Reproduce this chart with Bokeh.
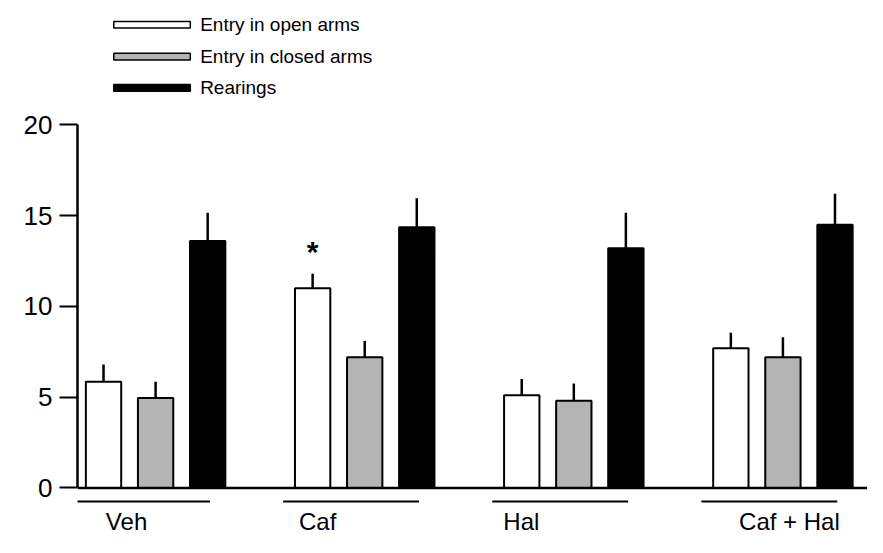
import numpy as np
from bokeh.plotting import figure
from bokeh.models import Range1d, Span, FixedTicker, ColumnDataSource
from bokeh.core.properties import value
from bokeh.embed import file_html
from bokeh.resources import INLINE

# ---- data ----
groups = ["Veh", "Caf", "Hal", "Caf + Hal"]
series_names = ["Entry in open arms", "Entry in closed arms", "Rearings"]
open_arms = [5.85, 11.0, 5.1, 7.7]
open_err = [0.95, 0.8, 0.9, 0.85]
closed_arms = [4.95, 7.2, 4.8, 7.2]
closed_err = [0.9, 0.9, 0.95, 1.1]
rearings = [13.6, 14.35, 13.2, 14.5]
rearings_err = [1.55, 1.6, 1.95, 1.7]
open_sig = ["", "*", "", ""]
y_ticks = [0, 5, 10, 15, 20]

# ---- layout / styles ----
FONT = "Liberation Sans"
fills = ["#ffffff", "#b4b4b4", "#000000"]
offsets = [-0.249, 0.0, 0.249]
bar_w = 0.169
label_shift = [-0.139, -0.225, -0.251, 0.031]
legend_rows = [25.51, 23.75, 22.03]

p = figure(width=867, height=537, output_backend="svg", toolbar_location=None,
           x_range=Range1d(-0.3735, 3.4045), y_range=Range1d(-2.726, 26.84),
           x_axis_type=None, min_border_left=77, min_border_right=0,
           min_border_top=0, min_border_bottom=0)
p.outline_line_color = None
p.ygrid.visible = False
p.background_fill_color = "white"
p.border_fill_color = "white"

ax = p.yaxis[0]
ax.ticker = FixedTicker(ticks=y_ticks)
ax.bounds = (0, 20)
ax.major_tick_out = 18
ax.major_tick_in = 0
ax.minor_tick_out = 0
ax.minor_tick_in = 0
ax.axis_line_width = 2.5
ax.axis_line_color = "black"
ax.major_tick_line_width = 2
ax.major_tick_line_color = "black"
ax.major_label_text_font_size = "26px"
ax.major_label_text_font = FONT
ax.major_label_text_color = "black"
ax.major_label_standoff = 7

idx = np.arange(len(groups))
series = [(open_arms, open_err), (closed_arms, closed_err), (rearings, rearings_err)]
for (vals, errs), off, col in zip(series, offsets, fills):
    v = np.array(vals)
    e = np.array(errs)
    src = ColumnDataSource(dict(x=idx + off, top=v, etop=v + e))
    p.segment(x0="x", y0="top", x1="x", y1="etop", source=src,
              line_color="black", line_width=2.5)
    p.vbar(x="x", top="top", bottom=0, width=bar_w, source=src,
           fill_color=col, line_color="black", line_width=2)

# significance star
sig_x = [i + offsets[0] for i, s in enumerate(open_sig) if s]
sig_y = [open_arms[i] + open_err[i] + 1.2 for i, s in enumerate(open_sig) if s]
sig_t = [s for s in open_sig if s]
p.text(x=sig_x, y=sig_y, text=sig_t, text_align="center", text_baseline="alphabetic",
       text_font=value(FONT), text_font_size="30px", text_font_style="bold",
       text_color="black")

# baseline
p.add_layout(Span(location=0, dimension="width", line_color="black", line_width=2.5))

# group underlines and labels
p.segment(x0=idx - 0.39, x1=idx + 0.26, y0=-0.75, y1=-0.75,
          line_color="black", line_width=2)
p.text(x=idx + np.array(label_shift), y=-1.85, text=groups, text_align="center",
       text_baseline="middle", text_font=value(FONT), text_font_size="24px",
       text_color="black")

# legend
ly = np.array(legend_rows)
p.quad(left=-0.200, right=0.166, bottom=ly - 0.18, top=ly + 0.18,
       fill_color=fills, line_color="black", line_width=1.5)
p.text(x=0.213, y=ly, text=series_names, text_align="left", text_baseline="middle",
       text_font=value(FONT), text_font_size="19px", text_color="black")

open("out.html", "w").write(file_html(p, INLINE))
